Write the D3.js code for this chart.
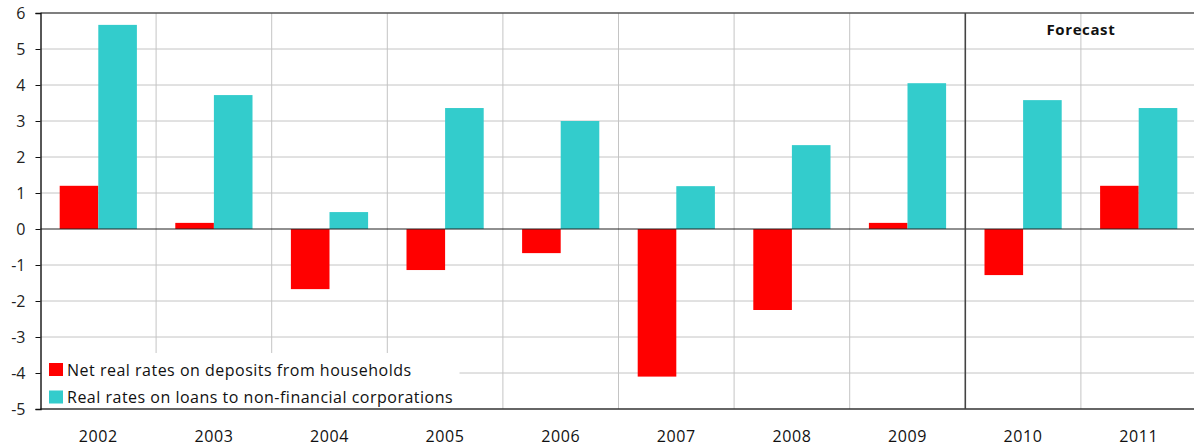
<!DOCTYPE html>
<html>
<head>
<meta charset="UTF-8">
<script src="https://d3js.org/d3.v7.min.js"></script>
<style>
  * { margin: 0; padding: 0; }
  body { background: #fff; width: 1194px; height: 448px; overflow: hidden; font-family: 'Open Sans', 'DejaVu Sans', sans-serif; }
  svg { display: block; }
</style>
</head>
<body>
<svg id="chart"></svg>
<script>
const years = ['2002', '2003', '2004', '2005', '2006', '2007', '2008', '2009', '2010', '2011'];
const deposits = [1.2, 0.17, -1.67, -1.14, -0.67, -4.1, -2.25, 0.17, -1.28, 1.2];
const loans = [5.67, 3.72, 0.47, 3.36, 3.0, 1.19, 2.33, 4.05, 3.58, 3.36];
const seriesNames = ['Net real rates on deposits from households', 'Real rates on loans to non-financial corporations'];
const yTicks = [-5, -4, -3, -2, -1, 0, 1, 2, 3, 4, 5, 6];
const forecastFrom = '2010';

(function() {
  const W = 1194, H = 448;
  const m = { left: 40.5, right: -2.5, top: 13, bottom: 39 };
  const svg = d3.select('#chart').attr('width', W).attr('height', H);

  const x = d3.scaleBand().domain(years).range([m.left, W - m.right]).paddingInner(0).paddingOuter(0);
  const y = d3.scaleLinear().domain([-5, 6]).range([H - m.bottom, m.top]);
  const bw = 38.6;
  const cols = ['#ff0000', '#33cccc'];

  // legend box (gridlines are hidden under it)
  const lg = { x: m.left + 1, y: 353, w: 418, h: y(-5) - 353 };

  // horizontal grid
  svg.append('g').selectAll('line').data(yTicks.filter(t => t !== 0 && t !== -5 && t !== 6))
    .join('line')
    .attr('x1', m.left).attr('x2', W)
    .attr('y1', d => y(d)).attr('y2', d => y(d))
    .attr('stroke', '#c4c4c4').attr('stroke-width', 1);

  // vertical grid at category boundaries
  svg.append('g').selectAll('line').data(years.slice(1).filter(d => d !== forecastFrom))
    .join('line')
    .attr('x1', d => x(d)).attr('x2', d => x(d))
    .attr('y1', y(6)).attr('y2', y(-5))
    .attr('stroke', '#c4c4c4').attr('stroke-width', 1);

  // bars
  const gBars = svg.append('g');
  [deposits, loans].forEach((vals, si) => {
    gBars.selectAll('rect.s' + si).data(years)
      .join('rect')
      .attr('class', 's' + si)
      .attr('x', d => x(d) + x.bandwidth() / 2 - bw + si * bw)
      .attr('width', bw)
      .attr('y', (d, i) => y(Math.max(0, vals[i])))
      .attr('height', (d, i) => Math.abs(y(vals[i]) - y(0)))
      .attr('fill', cols[si]);
  });

  svg.append('rect').attr('x', lg.x).attr('y', lg.y).attr('width', lg.w).attr('height', lg.h).attr('fill', '#fff');

  // frame lines
  svg.append('line').attr('x1', m.left).attr('x2', W).attr('y1', y(6)).attr('y2', y(6)).attr('stroke', '#555').attr('stroke-width', 1.5);
  svg.append('line').attr('x1', m.left).attr('x2', W).attr('y1', y(-5)).attr('y2', y(-5)).attr('stroke', '#333').attr('stroke-width', 1.5);
  svg.append('line').attr('x1', m.left).attr('x2', W).attr('y1', y(0)).attr('y2', y(0)).attr('stroke', '#222').attr('stroke-width', 1.2);

  // forecast separator
  svg.append('line').attr('x1', x(forecastFrom)).attr('x2', x(forecastFrom))
    .attr('y1', y(6)).attr('y2', y(-5)).attr('stroke', '#444').attr('stroke-width', 1.6);
  svg.append('text')
    .attr('x', x('2011')).attr('y', 35)
    .attr('text-anchor', 'middle').attr('font-size', 15).attr('font-weight', 700)
    .attr('letter-spacing', 0.6).attr('fill', '#111').text('Forecast');

  // y axis
  const yAxis = svg.append('g').attr('transform', `translate(${m.left},0)`)
    .call(d3.axisLeft(y).tickValues(yTicks).tickSize(5).tickPadding(10).tickFormat(d3.format('d')));
  yAxis.select('.domain').attr('stroke', '#111').attr('stroke-width', 1.4);
  yAxis.selectAll('.tick line').attr('stroke', '#111');
  yAxis.selectAll('.tick text').attr('font-size', 16).attr('fill', '#222')
    .attr('font-family', "'Open Sans', sans-serif")
    .text(d => d < 0 ? '-' + Math.abs(d) : d);

  // x axis labels
  svg.append('g').selectAll('text').data(years)
    .join('text')
    .attr('x', d => x(d) + x.bandwidth() / 2).attr('y', 442)
    .attr('text-anchor', 'middle').attr('font-size', 16).attr('letter-spacing', 0.6).attr('fill', '#111')
    .text(d => d);

  // legend
  const leg = svg.append('g');
  seriesNames.forEach((name, i) => {
    const ly = 363 + i * 27.5;
    leg.append('rect').attr('x', 49).attr('y', ly).attr('width', 14).attr('height', 13).attr('fill', cols[i]);
    leg.append('text').attr('x', 67).attr('y', ly + 12.5)
      .attr('font-size', 16).attr('fill', '#111').attr('letter-spacing', 0.5)
      .text(name);
  });
})();
</script>
</body>
</html>
